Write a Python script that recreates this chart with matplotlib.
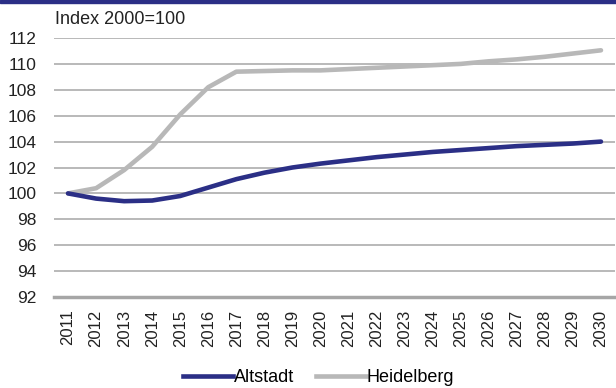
import matplotlib
matplotlib.use('Agg')
import matplotlib.pyplot as plt
from matplotlib.patches import Rectangle
from matplotlib.lines import Line2D

plt.rcParams['font.family'] = ['Liberation Sans', 'DejaVu Sans']

years = [str(y) for y in range(2011, 2031)]
altstadt = [100.0, 99.6, 99.4, 99.45, 99.8, 100.45, 101.1, 101.6, 102.0, 102.3,
            102.55, 102.8, 103.0, 103.2, 103.35, 103.5, 103.65, 103.75, 103.85, 104.0]
heidelberg = [100.0, 100.4, 101.8, 103.6, 106.1, 108.2, 109.4, 109.45, 109.5, 109.5,
              109.6, 109.7, 109.8, 109.9, 110.0, 110.2, 110.35, 110.55, 110.8, 111.05]
y_ticks = list(range(92, 113, 2))

navy = '#2B2F86'
grey = '#B8B8B8'
fs = 12

fig = plt.figure(figsize=(6.16, 3.88), dpi=100)
ax = fig.add_axes([54 / 616, 1 - 297 / 388, 561 / 616, 259 / 388])

# thin band across the top
fig.patches.append(Rectangle((0, 1 - 3 / 388), 1, 3 / 388, transform=fig.transFigure,
                             color=navy, zorder=0))

x = list(range(len(years)))
ax.plot(x, heidelberg, color=grey, lw=3.3, solid_capstyle='round', zorder=3)
ax.plot(x, altstadt, color=navy, lw=3.3, solid_capstyle='round', zorder=4)

ax.set_xlim(-0.5, len(years) - 0.5)
ax.set_ylim(92, 112)
ax.set_yticks(y_ticks)
ax.set_yticklabels([str(v) for v in y_ticks], fontsize=12.5)
ax.set_xticks(x)
ax.set_xticklabels(years, rotation=90, fontsize=fs)
ax.tick_params(axis='both', length=0, colors='#222222')
ax.tick_params(axis='y', pad=12.5)
ax.tick_params(axis='x', pad=9)

for v in y_ticks[1:]:
    ax.axhline(v, color='#A6A6A6', lw=1.1, zorder=1)
ax.axhline(92, color='#A6A6A6', lw=2.5, zorder=2, clip_on=False)

for s in ax.spines.values():
    s.set_visible(False)

fig.text(55 / 616, 1 - 20 / 388, 'Index 2000=100', fontsize=13, color='#222222',
         va='center', ha='left')

handles = [Line2D([], [], color=navy, lw=3.3), Line2D([], [], color=grey, lw=3.3)]
fig.legend(handles, ['Altstadt', 'Heidelberg'], loc='center', ncol=2,
           bbox_to_anchor=(318.5 / 616, 1 - 378 / 388), frameon=False, fontsize=13,
           handlelength=2.77, handletextpad=0.05, columnspacing=1.2, borderaxespad=0)

fig.savefig('out.png', dpi=100)
